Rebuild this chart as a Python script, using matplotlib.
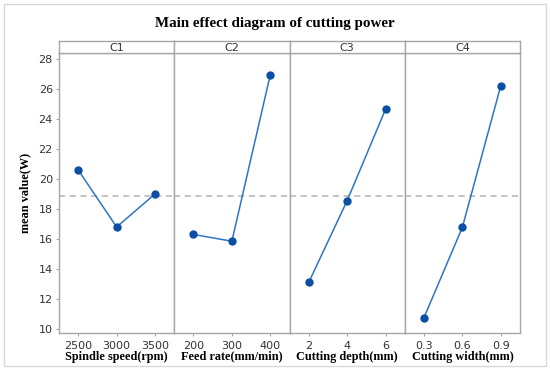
import matplotlib
matplotlib.use("Agg")
import matplotlib.pyplot as plt
from matplotlib.patches import Rectangle

panels = ["C1", "C2", "C3", "C4"]
levels = [["2500", "3000", "3500"],
          ["200", "300", "400"],
          ["2", "4", "6"],
          ["0.3", "0.6", "0.9"]]
means = [[20.6, 16.8, 19.0],
         [16.3, 15.85, 26.95],
         [13.1, 18.55, 24.65],
         [10.75, 16.78, 26.22]]
xlabels = ["Spindle speed(rpm)", "Feed rate(mm/min)", "Cutting depth(mm)", "Cutting width(mm)"]
grand_mean = 18.85

W, H = 550, 370
fig = plt.figure(figsize=(W/100, H/100), dpi=100)
fig.patches.append(Rectangle((4/W, 4/H), 542/W, 362/H, transform=fig.transFigure,
                             fill=False, edgecolor="#d8d8d8", lw=1))

left, right = 59, 520
top, bottom = 53, 333
strip_top = 41
pw = (right - left) / 4
edge = "#a6a6a6"
tickc = "#333333"
serif = "Liberation Serif"

for i in range(4):
    x0 = left + i * pw
    ax = fig.add_axes([x0/W, 1 - bottom/H, pw/W, (bottom - top)/H])
    ax.plot(range(3), means[i], color="#2f74c6", lw=1.1, zorder=3)
    ax.plot(range(3), means[i], "o", color="#0a4fa3", ms=5, zorder=4)
    ax.axhline(grand_mean, color="#b3b3b3", ls=(0, (4, 3)), lw=1.1, zorder=1)
    ax.set_xlim(-0.5, 2.5)
    ax.set_ylim(9.73, 28.4)
    ax.set_xticks(range(3))
    ax.set_xticklabels(levels[i])
    ax.set_yticks(range(10, 29, 2))
    ax.tick_params(axis="x", length=2.5, color=edge, labelsize=8, labelcolor=tickc, pad=3)
    ax.tick_params(axis="y", length=2.5, color=edge, labelsize=8, labelcolor=tickc, pad=2)
    if i > 0:
        ax.tick_params(axis="y", left=False, labelleft=False)
    for s in ax.spines.values():
        s.set_color(edge)
        s.set_linewidth(1)
    ax.set_xlabel(xlabels[i], family=serif, fontweight="bold", fontsize=8.8, labelpad=0)
    if i == 0:
        ax.set_ylabel("mean value(W)", family=serif, fontweight="bold", fontsize=8.8, labelpad=5)

    sa = fig.add_axes([x0/W, 1 - top/H, pw/W, (top - strip_top)/H])
    sa.set_xticks([])
    sa.set_yticks([])
    for s in sa.spines.values():
        s.set_color(edge)
        s.set_linewidth(1)
    sa.text(0.5, 0.45, panels[i], ha="center", va="center", fontsize=8, color=tickc,
            transform=sa.transAxes)

fig.text(0.5, 1 - 24/H, "Main effect diagram of cutting power", ha="center", va="center",
         family=serif, fontweight="bold", fontsize=10.8)

fig.savefig("out.png", dpi=100)
